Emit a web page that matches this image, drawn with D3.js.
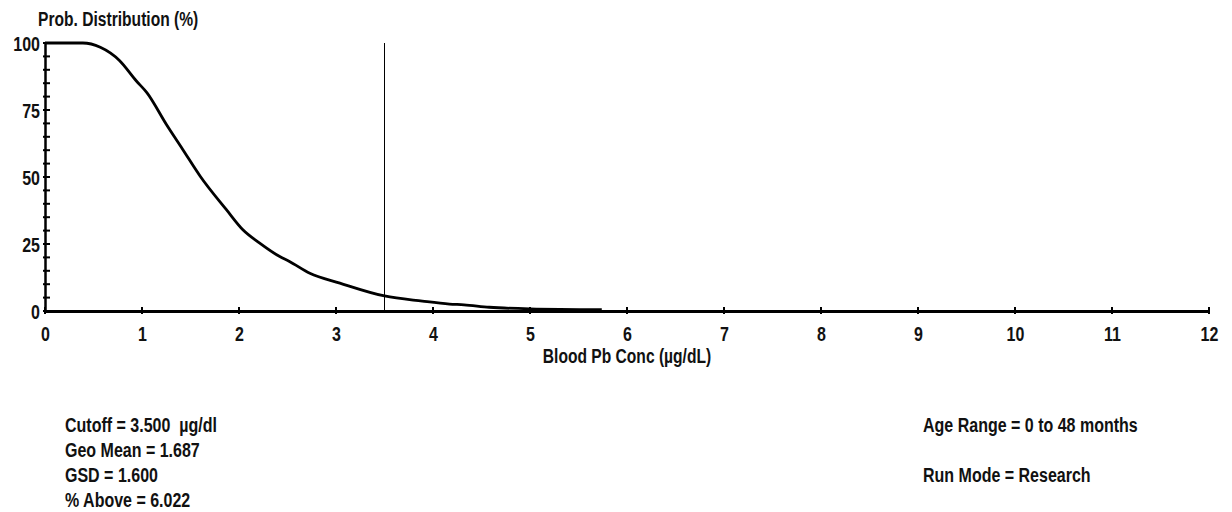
<!DOCTYPE html>
<html>
<head>
<meta charset="utf-8">
<script src="https://cdn.jsdelivr.net/npm/d3@7"></script>
<style>
  html, body { margin: 0; padding: 0; background: #fff; }
  svg { display: block; }
  text { font-family: "Liberation Sans", Arial, sans-serif; font-weight: bold; fill: #111; }
</style>
</head>
<body>
<svg id="chart" width="1232" height="512"></svg>
<script>
// ---- data ----
const concX = [0, 0.39, 0.57, 0.77, 0.94, 1.05, 1.25, 1.42, 1.6, 1.87, 2.04, 2.21, 2.42, 2.52, 2.73, 3.04, 3.5, 3.89, 4.17, 4.32, 4.58, 5.0, 5.74];
const probY = [100, 100, 98.4, 93.4, 85.9, 81.5, 69.7, 60.3, 50.3, 37.8, 30.3, 25.4, 20.3, 18.5, 14.1, 10.4, 5.6, 3.7, 2.6, 2.3, 1.4, 0.8, 0.5];
const xTicks = [0, 1, 2, 3, 4, 5, 6, 7, 8, 9, 10, 11, 12];
const yMajorTicks = [0, 25, 50, 75, 100];
const yMinorTicks = [5, 10, 15, 20, 30, 35, 40, 45, 55, 60, 65, 70, 80, 85, 90, 95];
const cutoff = 3.5;
const yTitle = "Prob. Distribution (%)";
const xTitle = "Blood Pb Conc (\u00b5g/dL)";
const statsLeft = ["Cutoff = 3.500  \u00b5g/dl", "Geo Mean = 1.687", "GSD = 1.600", "% Above = 6.022"];
const statsRight = ["Age Range = 0 to 48 months", "", "Run Mode = Research"];

const NARROW = 0.8;
const FONT = '"Liberation Sans", Arial, sans-serif';
function narrow(sel) {
  sel.each(function () {
    const w = this.getComputedTextLength();
    if (w > 0) {
      d3.select(this).attr("textLength", w * NARROW).attr("lengthAdjust", "spacingAndGlyphs");
    }
  });
}

const svg = d3.select("#chart");
const x = d3.scaleLinear().domain([0, 12]).range([45, 1209]);
const y = d3.scaleLinear().domain([0, 100]).range([311, 43]);

// y title
svg.append("text").attr("x", 38).attr("y", 26).attr("font-size", 19.5).text(yTitle).call(narrow);

// y axis
const yAxis = d3.axisLeft(y).tickValues(yMajorTicks).tickSize(0).tickPadding(5);
const gy = svg.append("g").attr("transform", "translate(45,0)").call(yAxis);
gy.select(".domain").attr("stroke", "#000").attr("stroke-width", 2.5);
gy.selectAll(".tick text").attr("font-size", 20).attr("dy", "0.36em")
  .style("font-family", FONT).style("font-weight", "bold").attr("fill", "#111").call(narrow);
svg.append("g").selectAll("line").data(yMajorTicks.concat(yMinorTicks)).join("line")
  .attr("x1", 43).attr("x2", 50).attr("y1", d => y(d)).attr("y2", d => y(d))
  .attr("stroke", "#000").attr("stroke-width", 2);

// x axis
const xAxis = d3.axisBottom(x).tickValues(xTicks).tickSize(0).tickPadding(16).tickFormat(d3.format("d"));
const gx = svg.append("g").attr("transform", `translate(0,${y(0)})`).call(xAxis);
gx.select(".domain").attr("stroke", "#000").attr("stroke-width", 3);
gx.selectAll(".tick text").attr("font-size", 20)
  .style("font-family", FONT).style("font-weight", "bold").attr("fill", "#111").call(narrow);
svg.append("g").selectAll("line").data(xTicks).join("line")
  .attr("x1", d => x(d)).attr("x2", d => x(d)).attr("y1", y(0) - 4).attr("y2", y(0) + 3)
  .attr("stroke", "#000").attr("stroke-width", 2);

// x title
svg.append("text").attr("x", x(6)).attr("y", 363).attr("text-anchor", "middle").attr("font-size", 19.5).text(xTitle).call(narrow);

// cutoff line
svg.append("line").attr("x1", x(cutoff)).attr("x2", x(cutoff)).attr("y1", y(100)).attr("y2", y(0))
  .attr("stroke", "#000").attr("stroke-width", 1);

// curve
const pts = concX.map((c, i) => [c, probY[i]]);
svg.append("path").datum(pts)
  .attr("fill", "none").attr("stroke", "#000").attr("stroke-width", 2.8)
  .attr("d", d3.line().x(d => x(d[0])).y(d => y(d[1])).curve(d3.curveMonotoneX));

// stats text
svg.append("g").selectAll("text").data(statsLeft).join("text")
  .attr("x", 65).attr("y", (d, i) => 432 + i * 25).attr("font-size", 20).style("white-space", "pre").text(d => d).call(narrow);
svg.append("g").selectAll("text").data(statsRight).join("text")
  .attr("x", 923).attr("y", (d, i) => 432 + i * 25).attr("font-size", 20).text(d => d).call(narrow);
</script>
</body>
</html>
